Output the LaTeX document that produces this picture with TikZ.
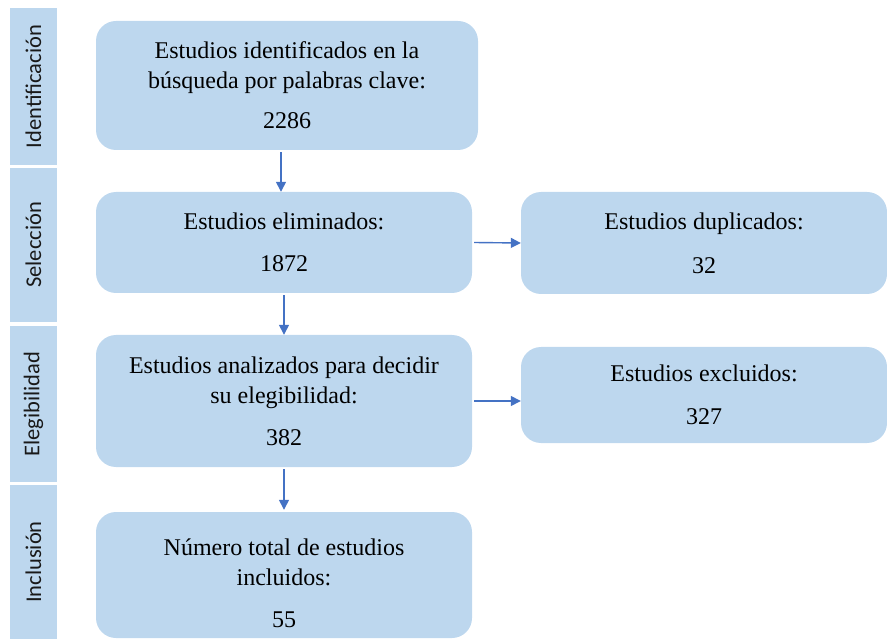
\documentclass[tikz,border=0pt]{standalone}
\usepackage{fontspec}
\setmainfont{Liberation Serif}
\newfontfamily\labelfont{Carlito}
\usetikzlibrary{arrows.meta}
\definecolor{boxblue}{HTML}{BDD7EE}
\definecolor{arrowblue}{HTML}{4472C4}

\begin{document}
\begin{tikzpicture}[x=1pt, y=1pt,
    stagebar/.style={fill=boxblue, rotate=90, inner sep=0pt, minimum height=47pt,
        font=\labelfont\fontsize{22.5}{26}\selectfont, text=black!90},
    stepbox/.style={fill=boxblue, rounded corners=20pt, inner sep=0pt, align=center,
        font=\fontsize{24}{30}\selectfont},
    arr/.style={draw=arrowblue, line width=1.4pt, -{Triangle[length=10pt,width=10pt]}}]
    \useasboundingbox (0,0) rectangle (887,-639);
    % stages on the left
    \node[stagebar, minimum width=157pt] (ident) at (33.5,-86.5) {Identificación};
    \node[stagebar, minimum width=154pt] (selec) at (33.5,-245) {Selección};
    \node[stagebar, minimum width=156pt] (eleg) at (33.5,-404) {Elegibilidad};
    \node[stagebar, minimum width=154pt] (incl) at (33.5,-562) {Inclusión};
    % main column
    \node[stepbox, minimum width=382pt, minimum height=129pt] (found) at (287,-85.5)
        {Estudios identificados en la\\búsqueda por palabras clave:\\[10pt]2286};
    \node[stepbox, minimum width=376pt, minimum height=101pt] (removed) at (284,-242.5)
        {Estudios eliminados:\\[12pt]1872};
    \node[stepbox, minimum width=376pt, minimum height=132pt] (screened) at (284,-401)
        {Estudios analizados para decidir\\su elegibilidad:\\[12pt]382};
    \node[stepbox, minimum width=376pt, minimum height=126pt] (included) at (284,-575)
        {\rule{0pt}{34pt}Número total de estudios\\incluidos:\\[12pt]55};
    % right column
    \node[stepbox, minimum width=366pt, minimum height=102pt] (dupl) at (704,-243)
        {Estudios duplicados:\\[14pt]32};
    \node[stepbox, minimum width=366pt, minimum height=96pt] (excl) at (704,-395)
        {Estudios excluidos:\\[13pt]327};
    % arrows
    \draw[arr] ([xshift=-6pt, yshift=-2pt]found.south) -- ([xshift=-3pt]removed.north);
    \draw[arr] ([yshift=-2pt]removed.south) -- (screened.north);
    \draw[arr] ([yshift=-2pt]screened.south) -- ([yshift=2pt]included.north);
    \draw[arr] ([xshift=2pt]removed.east) -- (dupl.west);
    \draw[arr] ([xshift=2pt]screened.east) -- (screened.east -| excl.west);
\end{tikzpicture}
\end{document}
